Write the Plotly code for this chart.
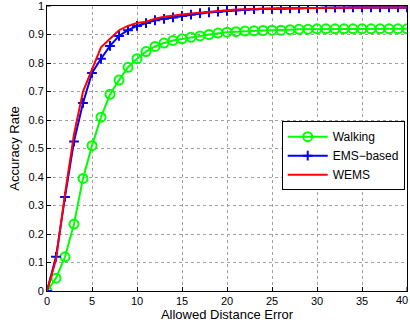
import plotly.graph_objects as go

x = list(range(0, 41))
walking = [0, 0.045, 0.12, 0.235, 0.395, 0.51, 0.61, 0.69, 0.74, 0.785, 0.815,
           0.84, 0.858, 0.87, 0.879, 0.885, 0.89, 0.895, 0.90, 0.905, 0.908,
           0.91, 0.912, 0.913, 0.914, 0.915, 0.915, 0.917, 0.918, 0.918, 0.92,
           0.92, 0.92, 0.92, 0.92, 0.92, 0.92, 0.92, 0.92, 0.92, 0.92]
ems = [0, 0.12, 0.33, 0.525, 0.66, 0.765, 0.815, 0.86, 0.895, 0.915, 0.93,
       0.94, 0.95, 0.955, 0.96, 0.965, 0.97, 0.975, 0.978, 0.98, 0.983,
       0.985, 0.987, 0.989, 0.99, 0.99, 0.991, 0.992, 0.992, 0.993, 0.993,
       0.994, 0.994, 0.994, 0.995, 0.995, 0.995, 0.995, 0.995, 0.995, 0.995]
wems = [0, 0.11, 0.34, 0.55, 0.70, 0.775, 0.855, 0.885, 0.915, 0.93, 0.94,
        0.945, 0.955, 0.962, 0.967, 0.97, 0.974, 0.977, 0.98, 0.984, 0.986,
        0.988, 0.989, 0.99, 0.99, 0.99, 0.991, 0.992, 0.992, 0.993, 0.993,
        0.994, 0.994, 0.994, 0.995, 0.995, 0.995, 0.995, 0.995, 0.995, 0.995]
xticks = [0, 5, 10, 15, 20, 25, 30, 35, 40]
yticks = [0, 0.1, 0.2, 0.3, 0.4, 0.5, 0.6, 0.7, 0.8, 0.9, 1]
ytick_labels = ["0", "0.1", "0.2", "0.3", "0.4", "0.5", "0.6", "0.7", "0.8", "0.9", "1"]

fig = go.Figure()
fig.add_trace(go.Scatter(x=x, y=walking, name="Walking", mode="lines+markers",
                         line=dict(color="#00ff00", width=2),
                         marker=dict(symbol="circle-open", size=9, color="#00ff00",
                                     line=dict(width=2, color="#00ff00"))))
fig.add_trace(go.Scatter(x=x, y=ems, name="EMS\u2212based", mode="lines+markers",
                         line=dict(color="#0000ff", width=2),
                         marker=dict(symbol="cross-thin", size=7, color="#0000ff",
                                     line=dict(width=2, color="#0000ff"))))
fig.add_trace(go.Scatter(x=x, y=wems, name="WEMS", mode="lines",
                         line=dict(color="#ff0000", width=2)))

axis_common = dict(showline=True, linecolor="black", linewidth=1, mirror=True,
                   ticks="inside", ticklen=4, tickcolor="black",
                   showgrid=True, gridcolor="#a0a0a0", griddash="dot", gridwidth=1,
                   zeroline=False, tickfont=dict(size=11, color="black"))

fig.update_layout(
    width=410, height=322,
    margin=dict(l=47, r=3, t=6, b=31),
    paper_bgcolor="white", plot_bgcolor="white",
    font=dict(family="Liberation Sans, Arial, sans-serif", size=11, color="black"),
    xaxis=dict(range=[0, 40], tickmode="array", tickvals=xticks[:-1],
               ticktext=[str(v) for v in xticks[:-1]],
               title=dict(text="Allowed Distance Error", standoff=1, font=dict(size=13)),
               **axis_common),
    yaxis=dict(range=[0, 1], tickmode="array", tickvals=yticks[:-1], ticktext=ytick_labels[:-1],
               title=dict(text="Accuracy Rate", standoff=5, font=dict(size=13)),
               **axis_common),
    legend=dict(x=0.652, y=0.596, xanchor="left", yanchor="top",
                bgcolor="white", bordercolor="black", borderwidth=1,
                font=dict(size=12), tracegroupgap=0, itemwidth=40),
    showlegend=True,
)
# end tick labels that plotly drops at the figure edge
fig.add_annotation(x=xticks[-1], y=0, xref="x", yref="paper", text=str(xticks[-1]),
                   showarrow=False, xanchor="right", xshift=3, yanchor="top", yshift=-1,
                   font=dict(size=11, color="black"))
fig.add_annotation(x=0, y=yticks[-1], xref="paper", yref="y", text=ytick_labels[-1],
                   showarrow=False, xanchor="right", yanchor="middle", xshift=-1,
                   font=dict(size=11, color="black"))
# tick marks at the ends
fig.add_shape(type="line", x0=xticks[-1], x1=xticks[-1], y0=0, y1=0.014, xref="x", yref="y",
              line=dict(color="black", width=1))
fig.add_shape(type="line", x0=0, x1=0.4, y0=yticks[-1], y1=yticks[-1], xref="x", yref="y",
              line=dict(color="black", width=1))

fig.write_html("out.html")
